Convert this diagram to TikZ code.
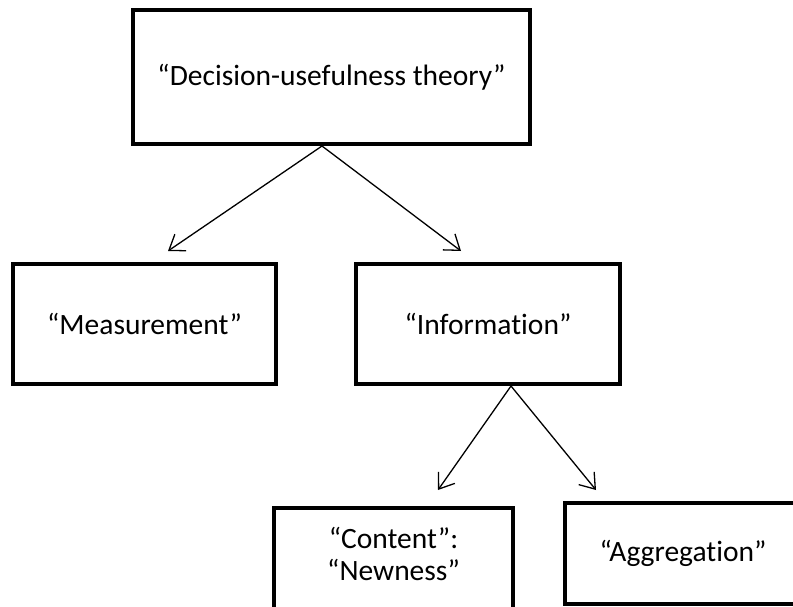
\documentclass[tikz,border=0pt]{standalone}
\usepackage{fontspec}
\setmainfont[Ligatures=NoCommon]{Carlito}
\usetikzlibrary{arrows.meta}
\tikzset{
  box/.style={draw=black, line width=4pt, fill=white, inner sep=0pt, align=center},
  conn/.style={line width=1.3pt, -{Straight Barb[length=14pt,width=20pt,line width=1.3pt]}},
  txt/.style={inner sep=0pt, align=center, font=\fontsize{29.5}{32}\selectfont}
}
\begin{document}
\begin{tikzpicture}[x=1pt,y=-1pt]
\useasboundingbox (0,0) rectangle (793,607);
\clip (0,0) rectangle (793,607);
\fill[white] (0,0) rectangle (793,607);
\fontsize{29.5}{32}\selectfont
\node[box, minimum width=397pt, minimum height=134pt] (top) at (331.5,77) {“Decision-usefulness theory”};
\node[box, minimum width=263pt, minimum height=120pt] (meas) at (144.5,324) {“Measurement”};
\node[box, minimum width=264pt, minimum height=120pt] (info) at (488,324) {“Information”};
\node[box, minimum width=239pt, minimum height=104pt] (cont) at (393.5,560) {};
\node[txt, anchor=base] (conttxt1) at (393.5,548) {“Content”:};
\node[txt, anchor=base] (conttxt2) at (393.5,580) {“Newness”};
\node[box, minimum width=236pt, minimum height=101pt] (aggr) at (683,553.5) {“Aggregation”};
\draw[conn] ([xshift=-9.5pt]top.south) -- ([shift={(23.5,-11)}]meas.north);
\draw[conn] ([xshift=-9.5pt]top.south) -- ([shift={(-27,-11)}]info.north);
\draw[conn] ([xshift=23pt]info.south) -- ([shift={(44.5,-16)}]cont.north);
\draw[conn] ([xshift=23pt]info.south) -- ([shift={(-87,-11)}]aggr.north);
\end{tikzpicture}
\end{document}
